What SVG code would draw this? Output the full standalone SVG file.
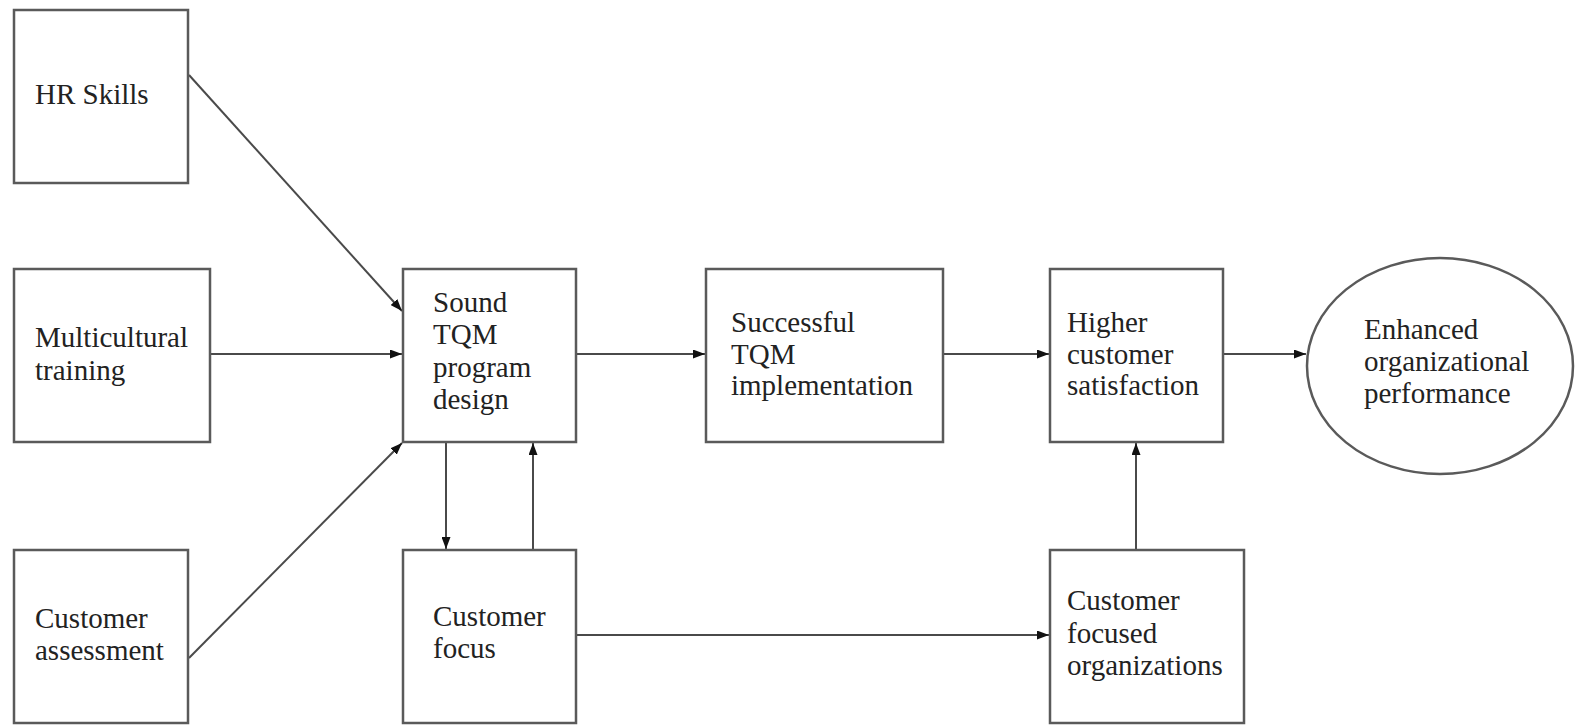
<svg xmlns="http://www.w3.org/2000/svg" width="1576" height="725" viewBox="0 0 1576 725">
<style>
.box{fill:#fff;stroke:#5a5a5a;stroke-width:2.5}
.lbl{font-family:'Liberation Serif','Times New Roman','DejaVu Serif',serif;font-size:29px;fill:#222}
.con{stroke:#4a4a4a;stroke-width:2;fill:none;marker-end:url(#ah)}
</style>
<defs>
<marker id="ah" viewBox="0 0 12 9" refX="12" refY="4.5" markerWidth="12" markerHeight="9" markerUnits="userSpaceOnUse" orient="auto">
<path d="M0,0 L12,4.5 L0,9 Z" fill="#111"/>
</marker>
</defs>
<rect width="1576" height="725" fill="#fff"/>
<g id="connectors">
<line class="con" x1="189" y1="75" x2="402" y2="311"/>
<line class="con" x1="210" y1="354" x2="402" y2="354"/>
<line class="con" x1="189" y1="658" x2="402" y2="443"/>
<line class="con" x1="576" y1="354" x2="705" y2="354"/>
<line class="con" x1="943" y1="354" x2="1049" y2="354"/>
<line class="con" x1="1223" y1="354" x2="1306" y2="354"/>
<line class="con" x1="446" y1="442" x2="446" y2="549"/>
<line class="con" x1="533" y1="550" x2="533" y2="443"/>
<line class="con" x1="576" y1="635" x2="1049" y2="635"/>
<line class="con" x1="1136" y1="550" x2="1136" y2="443"/>
</g>
<g id="hr-skills">
<rect class="box" x="14" y="10" width="174" height="173"/>
<text class="lbl" x="35" y="104">HR Skills</text>
</g>
<g id="multicultural-training">
<rect class="box" x="14" y="269" width="196" height="173"/>
<text class="lbl" x="35" y="347">Multicultural</text>
<text class="lbl" x="35" y="380">training</text>
</g>
<g id="customer-assessment">
<rect class="box" x="14" y="550" width="174" height="173"/>
<text class="lbl" x="35" y="628">Customer</text>
<text class="lbl" x="35" y="660">assessment</text>
</g>
<g id="sound-tqm">
<rect class="box" x="403" y="269" width="173" height="173"/>
<text class="lbl" x="433" y="312">Sound</text>
<text class="lbl" x="433" y="344">TQM</text>
<text class="lbl" x="433" y="377">program</text>
<text class="lbl" x="433" y="409">design</text>
</g>
<g id="successful-tqm">
<rect class="box" x="706" y="269" width="237" height="173"/>
<text class="lbl" x="731" y="332">Successful</text>
<text class="lbl" x="731" y="364">TQM</text>
<text class="lbl" x="731" y="395">implementation</text>
</g>
<g id="higher-satisfaction">
<rect class="box" x="1050" y="269" width="173" height="173"/>
<text class="lbl" x="1067" y="332">Higher</text>
<text class="lbl" x="1067" y="364">customer</text>
<text class="lbl" x="1067" y="395">satisfaction</text>
</g>
<g id="enhanced-performance">
<ellipse class="box" cx="1440" cy="366" rx="133" ry="108" stroke-width="2"/>
<text class="lbl" x="1364" y="339">Enhanced</text>
<text class="lbl" x="1364" y="371">organizational</text>
<text class="lbl" x="1364" y="403">performance</text>
</g>
<g id="customer-focus">
<rect class="box" x="403" y="550" width="173" height="173"/>
<text class="lbl" x="433" y="626">Customer</text>
<text class="lbl" x="433" y="658">focus</text>
</g>
<g id="customer-focused-organizations">
<rect class="box" x="1050" y="550" width="194" height="173"/>
<text class="lbl" x="1067" y="610">Customer</text>
<text class="lbl" x="1067" y="643">focused</text>
<text class="lbl" x="1067" y="675">organizations</text>
</g>
</svg>
